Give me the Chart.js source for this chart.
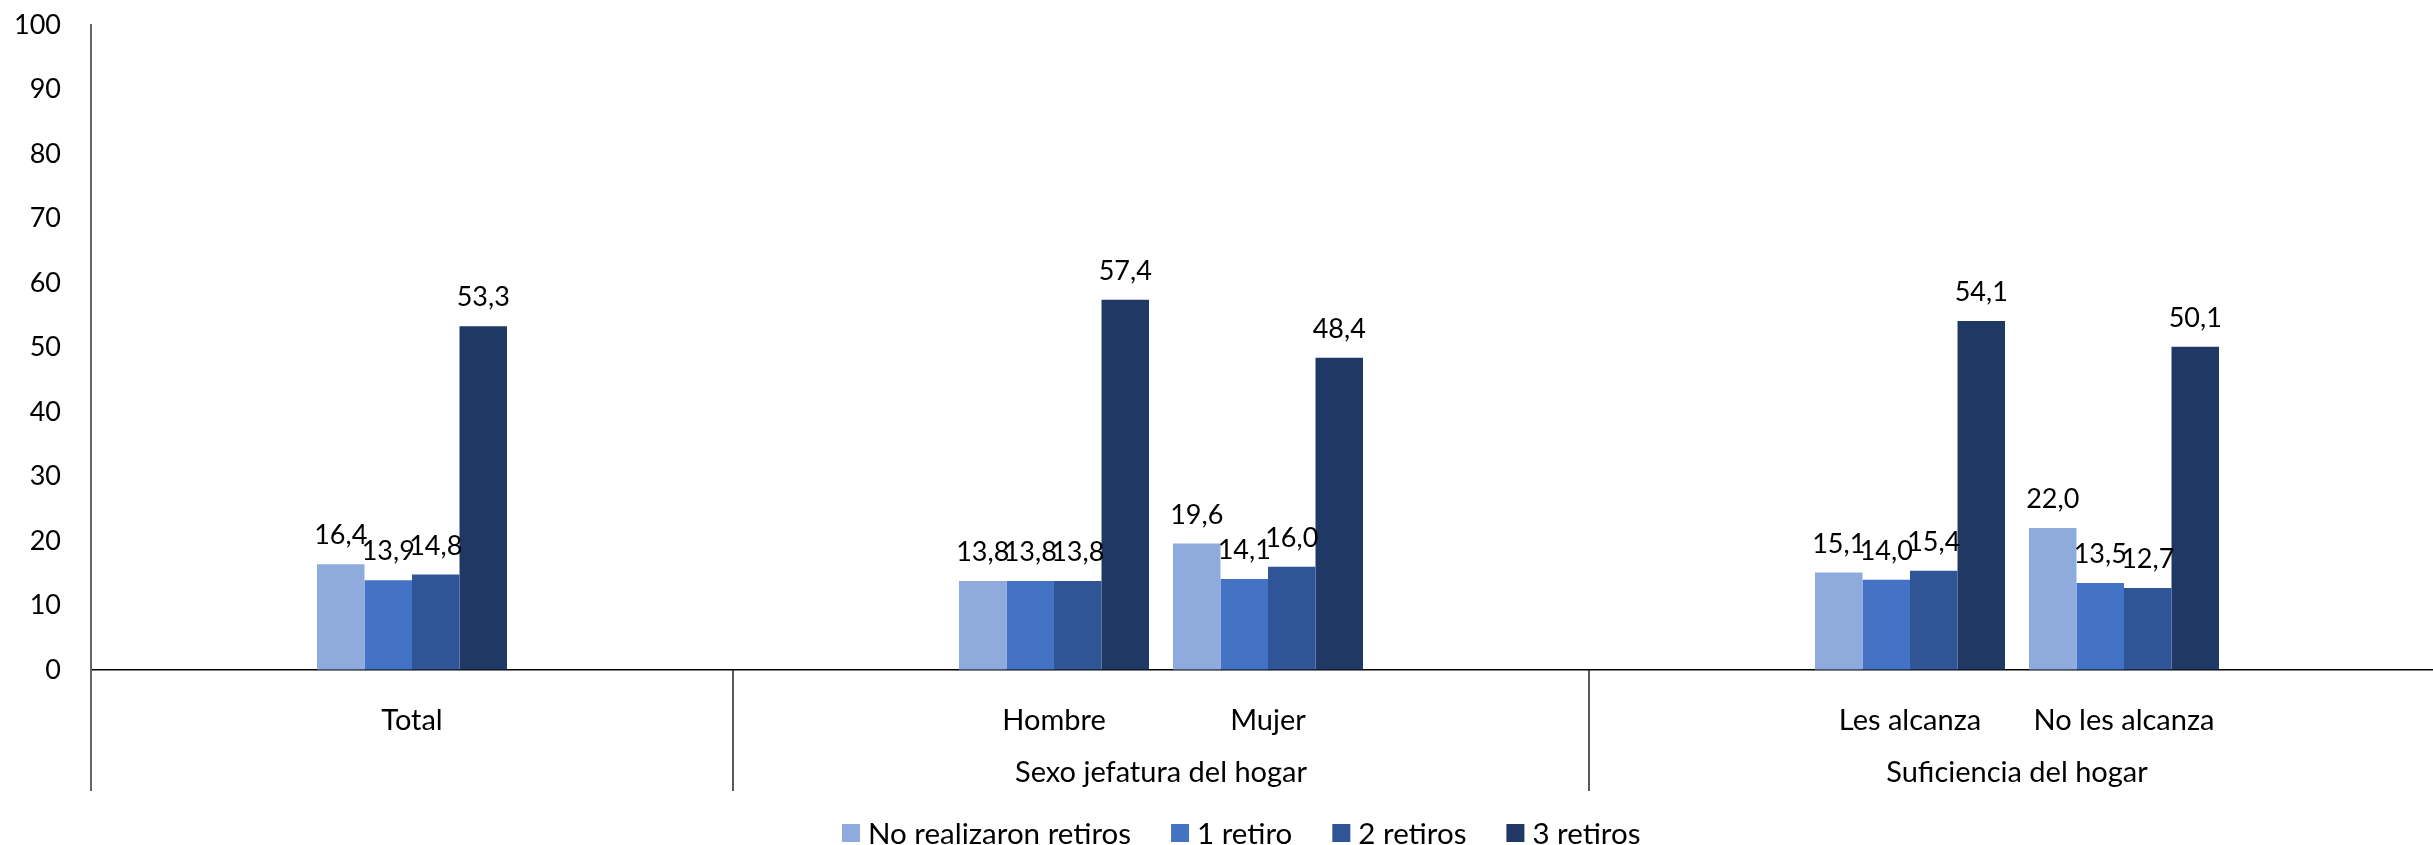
<!DOCTYPE html>
<html><head><meta charset="utf-8">
<script src="https://cdn.jsdelivr.net/npm/chart.js@4.4.1/dist/chart.umd.min.js"></script>
<style>
html,body{margin:0;padding:0;background:#fff;overflow:hidden;}
#wrap{position:relative;width:2445px;height:845px;}
</style></head><body>
<div id="wrap"><canvas id="c"></canvas></div>
<script>
const categories = ['', 'Total', '', '', 'Hombre', 'Mujer', '', '', 'Les alcanza', 'No les alcanza', ''];
const groupLabels = ['', 'Sexo jefatura del hogar', 'Suficiencia del hogar'];
const groupStart = [0, 3, 7];
const groupEnd = [3, 7, 11];
const seriesNames = ['No realizaron retiros', '1 retiro', '2 retiros', '3 retiros'];
const noRetiros = [null, 16.4, null, null, 13.8, 19.6, null, null, 15.1, 22.0, null];
const unRetiro = [null, 13.9, null, null, 13.8, 14.1, null, null, 14.0, 13.5, null];
const dosRetiros = [null, 14.8, null, null, 13.8, 16.0, null, null, 15.4, 12.7, null];
const tresRetiros = [null, 53.3, null, null, 57.4, 48.4, null, null, 54.1, 50.1, null];
const yMin = 0, yMax = 100, yStep = 10;
const colors = ['#8FAADC', '#4472C4', '#2F5597', '#203864'];

const FONT = 'Lato';
const seriesValues = [noRetiros, unRetiro, dosRetiros, tresRetiros];

const overlay = {
  id: 'overlay',
  afterDraw(chart) {
    const ctx = chart.ctx;
    const ca = chart.chartArea;
    const xs = chart.scales.x;
    const half = (xs.getPixelForValue(1) - xs.getPixelForValue(0)) / 2;
    ctx.save();
    // data labels
    ctx.fillStyle = '#000';
    ctx.font = '27px ' + FONT;
    ctx.textAlign = 'center';
    ctx.textBaseline = 'alphabetic';
    chart.data.datasets.forEach((ds, di) => {
      const meta = chart.getDatasetMeta(di);
      meta.data.forEach((el, i) => {
        const v = ds.data[i];
        if (v === null || v === undefined) return;
        ctx.fillText(v.toFixed(1).replace('.', ','), el.x, el.y - 20);
      });
    });
    // separators
    const sepBottom = ca.bottom + 121;
    groupStart.forEach((gs, k) => {
      const px = Math.round(xs.getPixelForValue(gs) - half);
      ctx.strokeStyle = k === 0 ? '#666' : '#222';
      ctx.lineWidth = k === 0 ? 2 : 1.5;
      ctx.beginPath();
      ctx.moveTo(px, ca.bottom);
      ctx.lineTo(px, sepBottom);
      ctx.stroke();
    });
    // group labels
    ctx.font = '29px ' + FONT;
    ctx.textBaseline = 'middle';
    groupLabels.forEach((g, k) => {
      if (!g) return;
      const x0 = xs.getPixelForValue(groupStart[k]) - half;
      const x1 = xs.getPixelForValue(groupEnd[k] - 1) + half;
      ctx.fillText(g, (x0 + x1) / 2, ca.bottom + 103);
    });
    // legend
    ctx.font = '29.5px ' + FONT;
    ctx.textAlign = 'left';
    const ly = ca.bottom + 163;
    let lx = 842;
    chart.data.datasets.forEach((ds) => {
      ctx.fillStyle = ds.backgroundColor;
      ctx.fillRect(lx, ly - 9, 18, 18);
      ctx.fillStyle = '#000';
      ctx.fillText(ds.label, lx + 26, ly + 1);
      lx += 26 + ctx.measureText(ds.label).width + 40;
    });
    ctx.restore();
  }
};

function build() {
  new Chart(document.getElementById('c'), {
    type: 'bar',
    data: {
      labels: categories,
      datasets: seriesNames.map((n, i) => ({
        label: n,
        data: seriesValues[i],
        backgroundColor: colors[i],
        categoryPercentage: 0.888,
        barPercentage: 1.0,
        borderWidth: 0
      }))
    },
    options: {
      responsive: true,
      maintainAspectRatio: false,
      animation: false,
      layout: { padding: { top: 25, left: 0, right: 0, bottom: 0 } },
      plugins: { legend: { display: false }, tooltip: { enabled: false } },
      scales: {
        x: {
          grid: { display: false },
          border: { display: true, color: '#000', width: 1.5 },
          ticks: { font: { family: FONT, size: 29 }, color: '#000', padding: 25, autoSkip: false, maxRotation: 0, minRotation: 0 },
          afterFit(s) { s.height = 175; }
        },
        y: {
          min: yMin, max: yMax,
          grid: { display: true, drawOnChartArea: false, drawTicks: true, tickLength: 30, color: 'rgba(0,0,0,0)' },
          border: { display: true, color: '#666', width: 2 },
          ticks: { stepSize: yStep, font: { family: FONT, size: 27 }, color: '#000', padding: 0 },
          afterFit(s) { s.width = 91; }
        }
      }
    },
    plugins: [overlay]
  });
}
if (document.fonts && document.fonts.load) {
  Promise.all([document.fonts.load('27px Lato'), document.fonts.load('29px Lato')]).then(build, build);
} else build();
</script>
</body></html>
